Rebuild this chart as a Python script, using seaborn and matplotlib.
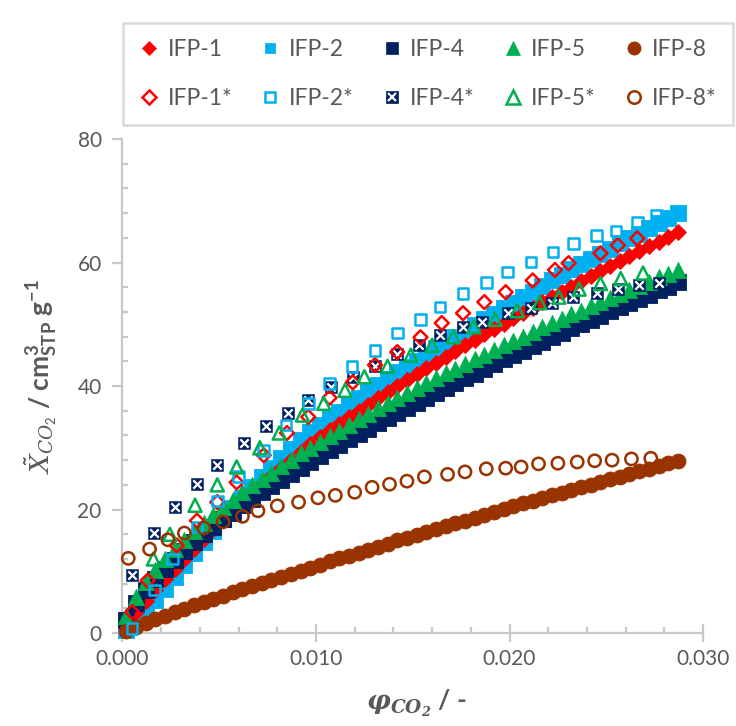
import matplotlib
matplotlib.use("Agg")
import numpy as np
import pandas as pd
import matplotlib.pyplot as plt
from matplotlib.lines import Line2D
from matplotlib.ticker import MultipleLocator, FormatStrFormatter
from matplotlib.legend_handler import HandlerTuple
import seaborn as sns

# ---------------------------------------------------------------- data
# CO2 volume fraction in per mille (converted to a fraction below)
phi_dense = [0.2, 0.7, 1.2, 1.7, 2.2, 2.7, 3.2, 3.7, 4.2, 4.7, 5.2, 5.7, 6.2, 6.7,
             7.2, 7.7, 8.2, 8.7, 9.2, 9.7, 10.2, 10.7, 11.2, 11.7, 12.2, 12.7,
             13.2, 13.7, 14.2, 14.7, 15.2, 15.7, 16.2, 16.7, 17.2, 17.7, 18.2,
             18.7, 19.2, 19.7, 20.2, 20.7, 21.2, 21.7, 22.2, 22.7, 23.2, 23.7,
             24.2, 24.7, 25.2, 25.7, 26.2, 26.7, 27.2, 27.7, 28.2, 28.7]

ifp1 = [1.4, 3.4, 5.2, 7.0, 8.7, 10.4, 12.0, 13.6, 15.2, 16.8, 18.3, 19.8, 21.3, 22.7,
        24.1, 25.5, 26.8, 28.1, 29.4, 30.6, 31.8, 32.9, 33.9, 35.0, 36.0, 37.0,
        38.0, 39.0, 40.0, 41.0, 41.9, 42.9, 43.8, 44.7, 45.6, 46.6, 47.5, 48.4,
        49.2, 50.1, 51.0, 51.9, 52.7, 53.6, 54.5, 55.3, 56.1, 57.0, 57.8, 58.6,
        59.4, 60.2, 61.0, 61.8, 62.6, 63.4, 64.2, 65.0]
ifp2 = [0.5, 1.9, 3.5, 5.3, 7.2, 9.1, 11.0, 12.9, 14.8, 16.6, 18.4, 20.2, 21.9, 23.6,
        25.2, 26.8, 28.3, 29.8, 31.2, 32.5, 33.7, 34.8, 35.8, 36.9, 38.0, 39.1,
        40.1, 41.1, 42.2, 43.1, 44.1, 45.1, 46.1, 47.1, 48.0, 49.0, 49.9, 50.8,
        51.7, 52.6, 53.5, 54.5, 55.3, 56.2, 57.1, 58.0, 58.9, 59.7, 60.6, 61.4,
        62.2, 63.1, 63.9, 64.7, 65.6, 66.4, 67.2, 68.0]
ifp4 = [2.1, 4.9, 7.0, 8.8, 10.4, 11.9, 13.3, 14.7, 16.0, 17.2, 18.4, 19.5, 20.7, 21.7,
        22.8, 23.8, 24.8, 25.8, 26.8, 27.7, 28.7, 29.6, 30.5, 31.4, 32.3, 33.1,
        34.0, 34.8, 35.7, 36.5, 37.3, 38.1, 38.9, 39.7, 40.5, 41.3, 42.0, 42.8,
        43.5, 44.3, 45.0, 45.7, 46.5, 47.2, 47.9, 48.6, 49.4, 50.0, 50.7, 51.4,
        52.1, 52.8, 53.5, 54.1, 54.8, 55.5, 56.1, 56.8]
ifp5 = [2.7, 5.9, 8.2, 10.2, 12.0, 13.6, 15.1, 16.5, 17.9, 19.2, 20.4, 21.6, 22.8, 23.9,
        24.9, 26.0, 27.1, 28.1, 29.1, 30.0, 31.0, 31.9, 32.8, 33.7, 34.6, 35.5,
        36.4, 37.2, 38.0, 38.9, 39.7, 40.5, 41.3, 42.1, 42.8, 43.6, 44.3, 45.1,
        45.8, 46.6, 47.3, 48.0, 48.7, 49.5, 50.2, 50.9, 51.6, 52.2, 52.9, 53.6,
        54.3, 54.9, 55.6, 56.2, 56.9, 57.6, 58.2, 58.8]
ifp8 = [0.3, 1.0, 1.6, 2.2, 2.8, 3.4, 3.9, 4.5, 5.0, 5.5, 6.0, 6.6, 7.1, 7.6,
        8.1, 8.6, 9.1, 9.6, 10.1, 10.6, 11.1, 11.6, 12.1, 12.5, 13.0, 13.5,
        14.0, 14.5, 15.0, 15.4, 15.9, 16.4, 16.8, 17.3, 17.8, 18.2, 18.7, 19.1,
        19.6, 20.1, 20.5, 21.0, 21.4, 21.9, 22.3, 22.7, 23.2, 23.6, 24.0, 24.5,
        24.9, 25.3, 25.8, 26.2, 26.6, 27.1, 27.5, 27.9]

phi_1s = [0.5, 1.3, 2.8, 3.85, 4.9, 5.9, 7.3, 8.5, 9.6, 10.7, 11.9, 13.05, 14.2, 15.4,
          16.5, 17.6, 18.7, 19.8, 21.2, 22.35, 23.05, 24.7, 25.6, 26.6]
ifp1s = [3.4, 8.5, 14.2, 18.2, 21.2, 24.4, 28.8, 32.4, 35.0, 38.1, 40.6, 43.4, 45.5, 47.9,
         50.2, 51.8, 53.6, 55.2, 57.1, 58.8, 59.9, 61.5, 62.8, 63.9]

phi_2s = [0.5, 1.65, 2.6, 3.85, 4.9, 6.0, 7.3, 8.45, 9.6, 10.7, 11.85, 13.05, 14.2, 15.4,
          16.4, 17.6, 18.8, 19.9, 21.1, 22.25, 23.3, 24.5, 25.5, 26.6, 27.6]
ifp2s = [0.7, 7.0, 12.0, 17.2, 21.4, 25.4, 29.6, 33.7, 37.2, 40.4, 43.2, 45.8, 48.6, 50.8,
         52.8, 55.0, 56.8, 58.5, 60.1, 61.7, 63.1, 64.4, 65.1, 66.5, 67.6]

phi_4s = [0.5, 1.65, 2.7, 3.85, 4.9, 6.3, 7.4, 8.55, 9.6, 10.8, 11.9, 13.05, 14.2, 15.3,
          16.4, 17.6, 18.6, 19.9, 21.1, 22.2, 23.3, 24.5, 25.6, 26.7, 27.7]
ifp4s = [9.4, 16.2, 20.4, 24.2, 27.2, 30.8, 33.5, 35.6, 37.8, 39.8, 41.5, 43.2, 45.2, 46.6,
         48.3, 49.5, 50.4, 51.8, 52.6, 53.5, 54.4, 55.1, 55.7, 56.4, 56.7]

phi_5s = [1.6, 2.45, 3.75, 4.9, 5.9, 7.1, 8.1, 9.3, 10.4, 11.5, 12.5, 13.7, 14.9, 16.0,
          17.1, 18.15, 19.25, 20.4, 21.55, 22.55, 23.6, 24.7, 25.75, 26.9]
ifp5s = [12.0, 16.0, 20.7, 24.0, 26.9, 30.0, 32.4, 35.3, 37.2, 39.3, 41.5, 43.2, 45.0, 46.6,
         48.0, 49.6, 50.8, 52.2, 53.5, 54.4, 55.7, 56.6, 57.4, 58.3]

phi_8s = [0.3, 1.4, 2.35, 3.2, 4.2, 5.2, 6.2, 7.0, 8.0, 9.1, 10.1, 11.0, 12.0, 12.9,
          13.8, 14.7, 15.6, 16.8, 17.7, 18.8, 19.8, 20.6, 21.5, 22.5, 23.5, 24.4,
          25.3, 26.3, 27.3]
ifp8s = [12.1, 13.6, 15.1, 16.2, 17.0, 18.0, 18.9, 19.8, 20.6, 21.2, 21.9, 22.3, 22.8, 23.6,
         24.1, 24.6, 25.3, 25.7, 26.1, 26.6, 26.7, 26.9, 27.4, 27.5, 27.7, 27.9,
         28.0, 28.2, 28.3]

labels = ["IFP-1", "IFP-2", "IFP-4", "IFP-5", "IFP-8"]
colors = {"IFP-1": "#FF0000", "IFP-2": "#00B0F0", "IFP-4": "#002060",
          "IFP-5": "#00B050", "IFP-8": "#993300"}

# ---------------------------------------------------------------- style
sns.set_theme(style="white")
plt.rcParams["font.family"] = ["Lato", "DejaVu Sans"]
plt.rcParams["mathtext.fontset"] = "custom"
plt.rcParams["mathtext.rm"] = "Lato"
plt.rcParams["mathtext.it"] = "DejaVu Serif:italic"
plt.rcParams["mathtext.bf"] = "Lato:bold"
plt.rcParams["mathtext.bfit"] = "DejaVu Serif:italic:bold"

TXT = "#595959"
AXC = "#C8C8C8"

fig = plt.figure(figsize=(7.36, 7.26), dpi=100)
ax = fig.add_axes([0.1664, 0.128, 0.7888, 0.6805])


def to_frac(v):
    return np.asarray(v, dtype=float) / 1000.0


dense = pd.DataFrame({"phi": to_frac(phi_dense), "IFP-1": ifp1, "IFP-2": ifp2,
                      "IFP-4": ifp4, "IFP-5": ifp5, "IFP-8": ifp8})

# measured isotherms (dense filled markers); drawing order sets the overlap
filled_style = {"IFP-2": ("s", 120, 2), "IFP-1": ("D", 66, 3), "IFP-4": ("s", 120, 4),
                "IFP-5": ("^", 136, 5), "IFP-8": ("o", 116, 6)}
for name in ["IFP-2", "IFP-1", "IFP-4", "IFP-5", "IFP-8"]:
    mk, size, z = filled_style[name]
    sns.scatterplot(data=dense, x="phi", y=name, ax=ax, marker=mk, s=size,
                    color=colors[name], edgecolor=colors[name], linewidth=0.6,
                    legend=False, zorder=z, clip_on=False)

# starred series (hollow markers on top)
open_sets = [("IFP-1", phi_1s, ifp1s, "D", 50),
             ("IFP-2", phi_2s, ifp2s, "s", 58),
             ("IFP-5", phi_5s, ifp5s, "^", 88),
             ("IFP-8", phi_8s, ifp8s, "o", 78)]
for name, px, py, mk, size in open_sets:
    sns.scatterplot(x=to_frac(px), y=py, ax=ax, marker=mk, s=size,
                    facecolor="none", edgecolor=colors[name], linewidth=1.8,
                    legend=False, zorder=10, clip_on=False)

# IFP-4*: dark square with a white cross
sns.scatterplot(x=to_frac(phi_4s), y=ifp4s, ax=ax, marker="s", s=74,
                color=colors["IFP-4"], edgecolor=colors["IFP-4"], linewidth=0.4,
                legend=False, zorder=9, clip_on=False)
sns.scatterplot(x=to_frac(phi_4s), y=ifp4s, ax=ax, marker="x", s=36,
                color="white", linewidth=1.6, legend=False, zorder=9.5, clip_on=False)

# ---------------------------------------------------------------- axes
ax.set_xlim(0, 0.030)
ax.set_ylim(0, 80)
ax.xaxis.set_major_locator(MultipleLocator(0.010))
ax.xaxis.set_minor_locator(MultipleLocator(0.002))
ax.xaxis.set_major_formatter(FormatStrFormatter("%.3f"))
ax.yaxis.set_major_locator(MultipleLocator(20))
ax.yaxis.set_minor_locator(MultipleLocator(4))

for side in ["top", "right"]:
    ax.spines[side].set_visible(False)
for side in ["left", "bottom"]:
    ax.spines[side].set_color(AXC)
    ax.spines[side].set_linewidth(1.6)

ax.tick_params(axis="y", which="major", direction="out", length=7, width=1.6,
               color=AXC, labelsize=15, labelcolor=TXT, pad=8, left=True)
ax.tick_params(axis="y", which="minor", direction="in", length=4, width=1.6,
               color=AXC, left=True)
ax.tick_params(axis="x", which="major", direction="inout", length=13, width=1.6,
               color=AXC, labelsize=15, labelcolor=TXT, pad=5, bottom=True)
ax.tick_params(axis="x", which="minor", direction="in", length=4, width=1.6,
               color=AXC, bottom=True)

ax.set_xlabel(r"$\mathbfit{\varphi}_{\mathbfit{CO_2}}$ / -", fontsize=19,
              fontweight="bold", color=TXT)
ax.set_ylabel(r"$\tilde{X}_{CO_2}$ / cm$^{\mathbf{3}}_{\mathbf{STP}}$ g$^{\mathbf{-1}}$",
              fontsize=19, fontweight="bold", color=TXT)
ax.xaxis.set_label_coords(0.506, -0.11)
ax.yaxis.set_label_coords(-0.11, 0.52)

# ---------------------------------------------------------------- legend
def filled_handle(mk, col, ms):
    return Line2D([], [], linestyle="none", marker=mk, markersize=ms,
                  markerfacecolor=col, markeredgecolor=col, markeredgewidth=0.5)


def open_handle(mk, col, ms):
    return Line2D([], [], linestyle="none", marker=mk, markersize=ms,
                  markerfacecolor="none", markeredgecolor=col, markeredgewidth=1.8)


h_filled = [filled_handle("D", colors["IFP-1"], 7.4),
            filled_handle("s", colors["IFP-2"], 7.4),
            filled_handle("s", colors["IFP-4"], 8.2),
            filled_handle("^", colors["IFP-5"], 10.0),
            filled_handle("o", colors["IFP-8"], 9.5)]
h_open = [open_handle("D", colors["IFP-1"], 7.0),
          open_handle("s", colors["IFP-2"], 7.2),
          (filled_handle("s", colors["IFP-4"], 8.2),
           Line2D([], [], linestyle="none", marker="x", markersize=6,
                  markeredgecolor="white", markeredgewidth=1.6)),
          open_handle("^", colors["IFP-5"], 9.5),
          open_handle("o", colors["IFP-8"], 9.0)]

handles, texts = [], []
for name, hf, ho in zip(labels, h_filled, h_open):
    handles += [hf, ho]
    texts += [name, name + "*"]

leg = fig.legend(handles, texts, ncol=5, loc="lower left",
                 bbox_to_anchor=(0.167, 0.828, 0.829, 0.154),
                 bbox_transform=fig.transFigure, mode="expand",
                 fontsize=16.5, labelcolor=TXT, frameon=True, fancybox=False,
                 edgecolor="#D9D9D9", framealpha=1, borderpad=0.7,
                 labelspacing=1.2, handlelength=0.9, handletextpad=0.35,
                 borderaxespad=0, handler_map={tuple: HandlerTuple(ndivide=1)})
leg.get_frame().set_linewidth(1.8)

fig.savefig("out.png", dpi=100)
